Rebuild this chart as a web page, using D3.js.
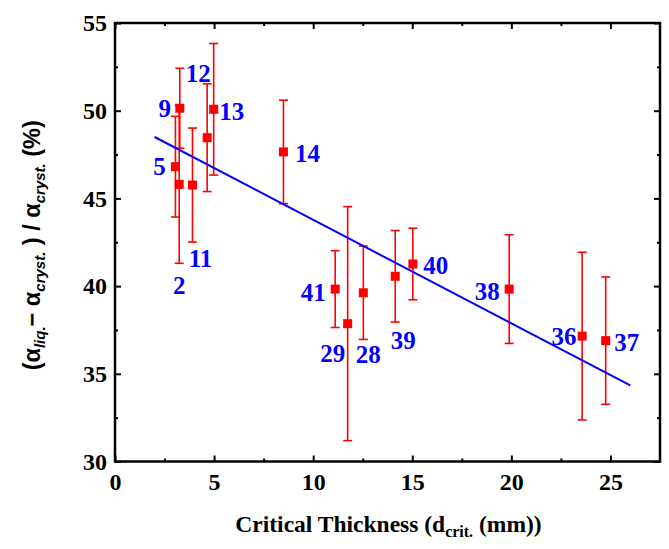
<!DOCTYPE html>
<html>
<head>
<meta charset="utf-8">
<script src="https://cdn.jsdelivr.net/npm/d3@7"></script>
<style>
  html, body { margin: 0; padding: 0; background: #fff; }
  svg { display: block; }
</style>
</head>
<body>
<svg id="chart" width="669" height="549"></svg>
<script>
// Sample identifiers and measured values
const sampleIds = ["5", "9", "2", "11", "12", "13", "14", "41", "29", "28", "39", "40", "38", "36", "37"];
const thickness = [3.05, 3.27, 3.24, 3.91, 4.65, 4.98, 8.5, 11.11, 11.74, 12.53, 14.14, 15.03, 19.89, 23.57, 24.76];
const relDiff   = [46.81, 50.14, 45.8, 45.76, 48.46, 50.08, 47.65, 39.83, 37.86, 39.62, 40.56, 41.26, 39.83, 37.15, 36.89];
const errors    = [2.87, 2.28, 4.5, 3.25, 3.07, 3.75, 2.95, 2.19, 6.67, 2.66, 2.61, 2.04, 3.1, 4.78, 3.63];

// Linear fit: y = intercept + slope * x, drawn over fitRange
const fitIntercept = 49.68;
const fitSlope = -0.590;
const fitRange = [2, 26];

// Axis ticks
const xMajorTicks = [0, 5, 10, 15, 20, 25];
const xMinorTicks = [2.5, 7.5, 12.5, 17.5, 22.5];
const yMajorTicks = [30, 35, 40, 45, 50, 55];
const yMinorTicks = [32.5, 37.5, 42.5, 47.5, 52.5];

// Label placement (pixel offset of each sample label from its marker)
const labelOffsets = [
  [-16, 0], [-15, 0], [0, 101], [8, 73], [-9, -64], [18, 2], [24, 2],
  [-22, 3], [-15, 30], [5, 62], [8, 64], [23, 2], [-22, 2], [-18, 0], [21, 2]
];

const svg = d3.select("#chart");
const plotLeft = 115, plotRight = 660, plotTop = 23, plotBottom = 461.5;

const x = d3.scaleLinear().domain([0, 27.5]).range([plotLeft, plotRight]);
const y = d3.scaleLinear().domain([30, 55]).range([plotBottom, plotTop]);

const serif = "'Liberation Serif', 'Times New Roman', serif";
const sans = "'Liberation Sans', Arial, sans-serif";

function styleAxis(g, withText) {
  g.select(".domain").remove();
  g.selectAll(".tick line").attr("stroke", "#000").attr("stroke-width", 2);
  if (withText) {
    g.selectAll(".tick text")
      .attr("fill", "#000")
      .style("font-family", serif)
      .style("font-weight", "bold")
      .style("font-size", "24px");
  } else {
    g.selectAll(".tick text").remove();
  }
}

// Bottom axis with labels
svg.append("g").attr("transform", `translate(0,${plotBottom})`)
  .call(d3.axisBottom(x).tickValues(xMajorTicks).tickSize(-6).tickPadding(11).tickFormat(d3.format("d")))
  .call(g => styleAxis(g, true));
svg.append("g").attr("transform", `translate(0,${plotBottom})`)
  .call(d3.axisBottom(x).tickValues(xMinorTicks).tickSize(-3))
  .call(g => styleAxis(g, false));
// Top axis (mirrored ticks)
svg.append("g").attr("transform", `translate(0,${plotTop})`)
  .call(d3.axisTop(x).tickValues(xMajorTicks).tickSize(-6))
  .call(g => styleAxis(g, false));
svg.append("g").attr("transform", `translate(0,${plotTop})`)
  .call(d3.axisTop(x).tickValues(xMinorTicks).tickSize(-3))
  .call(g => styleAxis(g, false));
// Left axis with labels
svg.append("g").attr("transform", `translate(${plotLeft},0)`)
  .call(d3.axisLeft(y).tickValues(yMajorTicks).tickSize(-6).tickPadding(8).tickFormat(d3.format("d")))
  .call(g => styleAxis(g, true));
svg.append("g").attr("transform", `translate(${plotLeft},0)`)
  .call(d3.axisLeft(y).tickValues(yMinorTicks).tickSize(-3))
  .call(g => styleAxis(g, false));
// Right axis (mirrored ticks)
svg.append("g").attr("transform", `translate(${plotRight},0)`)
  .call(d3.axisRight(y).tickValues(yMajorTicks).tickSize(-6))
  .call(g => styleAxis(g, false));
svg.append("g").attr("transform", `translate(${plotRight},0)`)
  .call(d3.axisRight(y).tickValues(yMinorTicks).tickSize(-3))
  .call(g => styleAxis(g, false));

// Frame
svg.append("rect")
  .attr("x", plotLeft).attr("y", plotTop)
  .attr("width", plotRight - plotLeft).attr("height", plotBottom - plotTop)
  .attr("fill", "none").attr("stroke", "#000").attr("stroke-width", 2.5);

const data = sampleIds.map((id, i) => ({
  id, x: thickness[i], y: relDiff[i], e: errors[i], off: labelOffsets[i]
}));

// Error bars
const red = "#ff0000";
const capHalf = 4.5;
const eb = svg.append("g").attr("stroke", red).attr("stroke-width", 1.6);
data.forEach(d => {
  const cx = x(d.x);
  eb.append("line").attr("x1", cx).attr("x2", cx).attr("y1", y(d.y + d.e)).attr("y2", y(d.y - d.e));
  eb.append("line").attr("x1", cx - capHalf).attr("x2", cx + capHalf).attr("y1", y(d.y + d.e)).attr("y2", y(d.y + d.e));
  eb.append("line").attr("x1", cx - capHalf).attr("x2", cx + capHalf).attr("y1", y(d.y - d.e)).attr("y2", y(d.y - d.e));
});

// Fit line
const fitLine = d3.line().x(v => x(v)).y(v => y(fitIntercept + fitSlope * v));
svg.append("path")
  .attr("d", fitLine(fitRange))
  .attr("fill", "none").attr("stroke", "#0000ff").attr("stroke-width", 2);

// Markers
const sq = 9;
svg.append("g").selectAll("rect").data(data).join("rect")
  .attr("x", d => x(d.x) - sq / 2).attr("y", d => y(d.y) - sq / 2)
  .attr("width", sq).attr("height", sq).attr("fill", red);

// Sample labels
svg.append("g").selectAll("text").data(data).join("text")
  .attr("x", d => x(d.x) + d.off[0]).attr("y", d => y(d.y) + d.off[1])
  .attr("text-anchor", "middle").attr("dominant-baseline", "central")
  .attr("fill", "#0000ff")
  .style("font-family", serif).style("font-weight", "bold").style("font-size", "25px")
  .text(d => d.id);

// X axis title
const xt = svg.append("text")
  .attr("x", (plotLeft + plotRight) / 2 + 1).attr("y", 532)
  .attr("text-anchor", "middle")
  .style("font-family", serif).style("font-weight", "bold").style("font-size", "23.5px")
  .attr("fill", "#000");
xt.append("tspan").text("Critical Thickness (d");
xt.append("tspan").attr("dy", 5).style("font-size", "16px").text("crit.");
xt.append("tspan").attr("dy", -5).text(" (mm))");

// Y axis title
const yt = svg.append("text")
  .attr("transform", `translate(40,${(plotTop + plotBottom) / 2 + 3}) rotate(-90)`)
  .attr("text-anchor", "middle")
  .style("font-family", sans).style("font-weight", "bold").style("font-size", "23.5px")
  .attr("fill", "#000");
yt.append("tspan").text("(α");
yt.append("tspan").attr("dy", 5).style("font-size", "15px").style("font-style", "italic").text("liq.");
yt.append("tspan").attr("dy", -5).text("− α");
yt.append("tspan").attr("dy", 5).style("font-size", "15px").style("font-style", "italic").text("cryst.");
yt.append("tspan").attr("dy", -5).text(" ) / α");
yt.append("tspan").attr("dy", 5).style("font-size", "15px").style("font-style", "italic").text("cryst.");
yt.append("tspan").attr("dy", -5).text(" (%)");
</script>
</body>
</html>
